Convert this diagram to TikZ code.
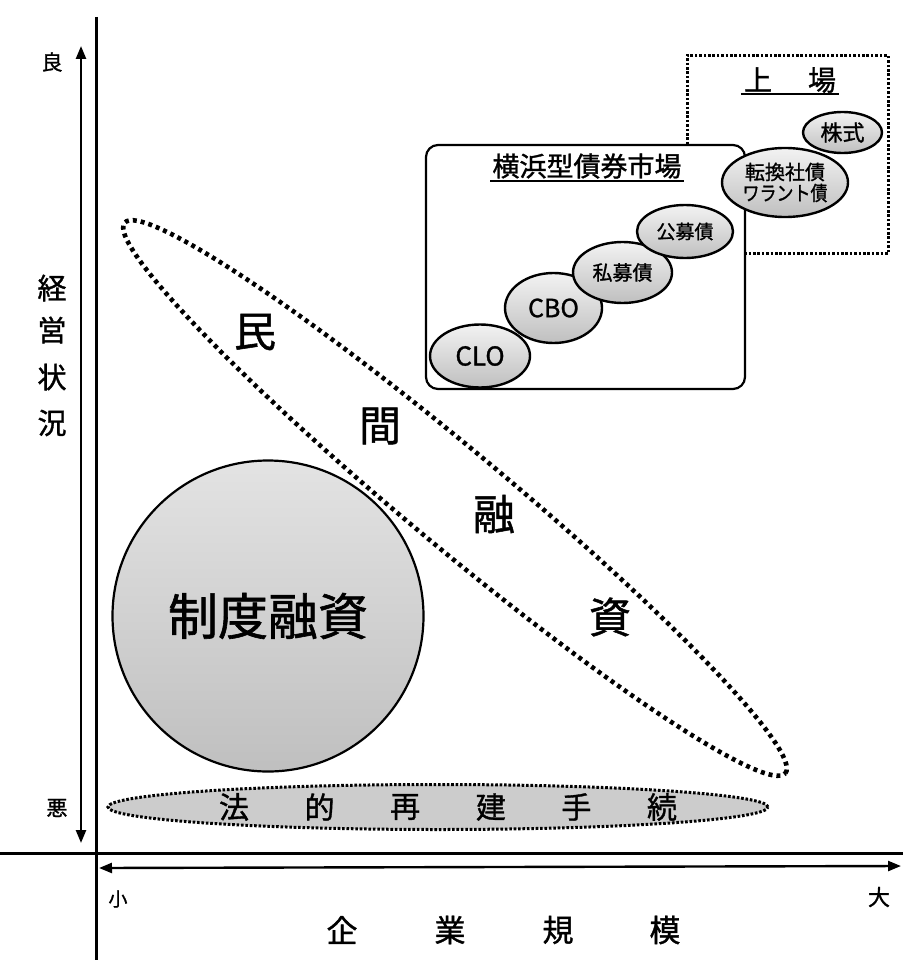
\documentclass[tikz,border=0pt]{standalone}
\usepackage{fontspec}
\setmainfont{Noto Sans CJK JP}[FakeBold=1.2]
\usepackage{graphicx}
\usetikzlibrary{shapes.geometric,arrows.meta}
\begin{document}
\begin{tikzpicture}[x=1pt,y=-1pt,
  fs/.style={font=\fontsize{#1pt}{#1pt}\selectfont},
  lbl/.style={inner sep=0pt, fs=#1},
  axisline/.style={line width=3pt},
  axisarrow/.style={line width=2.4pt, {Triangle[length=13pt,width=10pt]}-{Triangle[length=13pt,width=10pt]}},
  bub/.style={draw, line width=2.4pt, shape=ellipse, inner sep=0pt, top color=gray!10, bottom color=gray!50},
  ulbar/.style={line width=1.8pt},
  dotfine/.style={line width=3pt, dash pattern=on 2.6pt off 1.8pt},
  dotbig/.style={line width=4.6pt, dash pattern=on 4pt off 4pt}
]
\useasboundingbox (0,0) rectangle (903,963);

% big circle
\node[shape=circle, draw, line width=2.2pt, minimum size=311pt, inner sep=0pt,
      top color=gray!22, bottom color=gray!50, fs=50] (seido) at (268,616) {制度融資};

% private loans ellipse
\node[shape=ellipse, draw, dotbig, minimum width=860pt, minimum height=97pt,
      inner sep=0pt, rotate=-39.8] (minkan) at (455,498) {};
\node[lbl=42] (m1) at (255,332) {民};
\node[lbl=42] (m2) at (380,426) {間};
\node[lbl=42] (m3) at (494,514) {融};
\node[lbl=42] (m4) at (610,617) {資};

% legal reconstruction ellipse
\node[shape=ellipse, draw, dotfine, fill=gray!40, minimum width=660pt,
      minimum height=45pt, inner sep=0pt] (hou) at (438,807) {};
\node[lbl=30] (h1) at (234,807) {法};
\node[lbl=30] (h2) at (319.6,807) {的};
\node[lbl=30] (h3) at (405.2,807) {再};
\node[lbl=30] (h4) at (490.8,807) {建};
\node[lbl=30] (h5) at (576.4,807) {手};
\node[lbl=30] (h6) at (662,807) {続};

% listing box
\node[draw, dotfine, fill=white, minimum width=201pt, minimum height=198pt, inner sep=0pt] (jojo) at (787.5,154.5) {};
\node[lbl=28] (jt) at (790,80) {上\hspace{36pt}場};
\draw[ulbar] ([xshift=-3pt,yshift=-1pt]jt.south west) -- ([xshift=3pt,yshift=-1pt]jt.south east);
\node[bub, minimum width=79pt, minimum height=41pt, fs=22] (kabu) at (842.5,132.5) {株式};

% Yokohama bond market box
\node[draw, line width=2.2pt, rounded corners=12pt, fill=white, minimum width=319pt,
      minimum height=244pt, inner sep=0pt] (yoko) at (585.5,267) {};
\node[lbl=27] (yt) at (587,166) {横浜型債券市場};
\draw[ulbar] ([xshift=-2pt,yshift=-2pt]yt.south west) -- ([xshift=2pt,yshift=-2pt]yt.south east);
\node[bub, minimum width=100pt, minimum height=63pt, fs=26] (clo) at (480,356) {CLO};
\node[bub, minimum width=97pt, minimum height=70pt, fs=25] (cbo) at (553.5,308) {CBO};
\node[bub, minimum width=99pt, minimum height=61pt, fs=20] (shibo) at (622.5,272.5) {私募債};
\node[bub, minimum width=96pt, minimum height=53pt, fs=19] (kobo) at (685,231.5) {公募債};

\node[bub, minimum width=126pt, minimum height=69pt, align=center,
      font=\fontsize{20pt}{21pt}\selectfont] (tenkan) at (785,182.5)
      {転換社債\\\scalebox{0.85}[1]{ワラント債}};

% axes
\coordinate (vtop) at (96,17);
\coordinate (vbot) at (96,960);
\draw[axisline] (vtop) -- (vbot);
\coordinate (hl) at (0,853);
\coordinate (hr) at (903,853);
\draw[axisline] (hl) -- (hr);
\coordinate (ya) at (81,46);
\coordinate (yb) at (81,843);
\draw[axisarrow] (yb) -- (ya);
\coordinate (xa) at (99,868);
\coordinate (xb) at (901,866);
\draw[axisarrow] (xa) -- (xb);

% axis labels
\node[lbl=21] (good) at (52,62) {良};
\node[lbl=21] (bad) at (57,808) {悪};
\node[lbl=29] (k1) at (52,288) {経};
\node[lbl=29] (k2) at (52,330) {営};
\node[lbl=29] (k3) at (52,377) {状};
\node[lbl=29] (k4) at (52,423) {況};
\node[lbl=19] (small) at (118,899) {小};
\node[lbl=22] (big) at (879,897) {大};
\node[lbl=31] (s1) at (342,930) {企};
\node[lbl=31] (s2) at (450,930) {業};
\node[lbl=31] (s3) at (558,930) {規};
\node[lbl=31] (s4) at (665,930) {模};
\end{tikzpicture}
\end{document}
